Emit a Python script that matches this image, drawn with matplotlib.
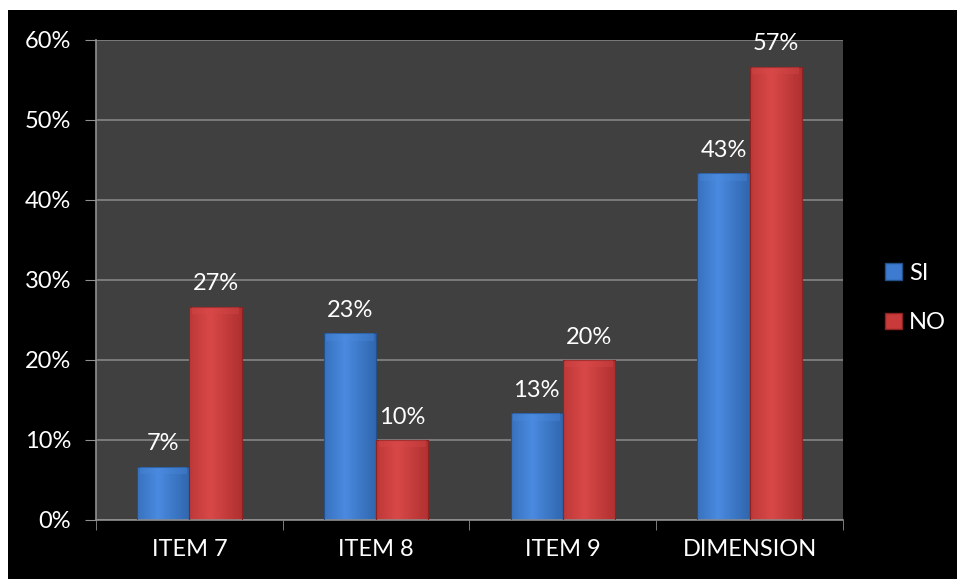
import numpy as np
import matplotlib.pyplot as plt
from matplotlib.patches import Rectangle

categorias = ["ITEM 7", "ITEM 8", "ITEM 9", "DIMENSION"]
si = [6.67, 23.33, 13.33, 43.33]
no = [26.67, 10.0, 20.0, 56.67]
etiquetas_si = ["7%", "23%", "13%", "43%"]
etiquetas_no = ["27%", "10%", "20%", "57%"]

plt.rcParams['font.family'] = ['Lato', 'DejaVu Sans']

fig = plt.figure(figsize=(9.57, 5.79), dpi=100, facecolor='white')
# fondo negro con un borde blanco arriba y a la izquierda
fondo = Rectangle((8 / 957, 0), 1, 1 - 10 / 579, transform=fig.transFigure,
                  facecolor='black', edgecolor='none', zorder=-10)
fig.add_artist(fondo)

ax = fig.add_axes([96 / 957, 1 - 520 / 579, (843 - 96) / 957, 480 / 579])
ax.set_facecolor('#404040')

x = np.arange(len(categorias))
w = 0.28


def barras_degradado(pos, vals, c_claro, c_oscuro, c_borde):
    bars = ax.bar(pos, vals, w, color='none', edgecolor=c_borde, linewidth=0.8, zorder=3)
    grad = np.linspace(0, 1, 64)
    perfil = 1 - np.abs(grad - 0.4) * 1.4
    perfil = np.clip(perfil, 0, 1)[None, :]
    cmap = plt.matplotlib.colors.LinearSegmentedColormap.from_list('g', [c_oscuro, c_claro])
    for b in bars:
        x0, y0 = b.get_x(), b.get_y()
        bw, bh = b.get_width(), b.get_height()
        im = ax.imshow(perfil, cmap=cmap, aspect='auto', extent=(x0, x0 + bw, y0, y0 + bh),
                       zorder=2, vmin=0, vmax=1)
        im.set_clip_path(b)
        # bisel superior más claro
        ax.bar(x0 + bw / 2, 0.9, bw * 0.9, bottom=y0 + bh - 0.9, color=c_claro,
               alpha=0.35, edgecolor='none', zorder=3)
    return bars


barras_degradado(x - w / 2, si, '#4a8ae0', '#2b5fa3', '#24508a')
barras_degradado(x + w / 2, no, '#d94848', '#a82c2c', '#8c2222')

for xi, v, t in zip(x - w / 2, si, etiquetas_si):
    ax.annotate(t, (xi, v), xytext=(0, 9), textcoords='offset points', ha='center',
                va='bottom', color='white', fontsize=17)
for xi, v, t in zip(x + w / 2, no, etiquetas_no):
    ax.annotate(t, (xi, v), xytext=(0, 9), textcoords='offset points', ha='center',
                va='bottom', color='white', fontsize=17)

ax.set_xlim(-0.5, 3.5)
ax.set_ylim(0, 60)
ax.set_yticks(np.arange(0, 61, 10))
ax.set_yticklabels([f"{v}%" for v in range(0, 61, 10)])
ax.set_xticks(x)
ax.set_xticklabels(categorias)
ax.set_xticks(np.arange(-0.5, 4, 1), minor=True)
ax.tick_params(axis='x', which='major', length=0, pad=14, colors='white', labelsize=17)
ax.tick_params(axis='x', which='minor', length=7, color='#909090', direction='out')
ax.tick_params(axis='y', length=8, color='#909090', colors='white', labelsize=17, pad=10)
ax.yaxis.grid(True, color='#858585', linewidth=1.2, zorder=1)
ax.set_axisbelow(True)
for s in ['top', 'right']:
    ax.spines[s].set_visible(False)
for s in ['left', 'bottom']:
    ax.spines[s].set_color('#909090')
    ax.spines[s].set_linewidth(1.2)

h1 = Rectangle((0, 0), 1, 1, facecolor='#3d7bd0', edgecolor='#24508a')
h2 = Rectangle((0, 0), 1, 1, facecolor='#c93a3a', edgecolor='#8c2222')
leg = fig.legend([h1, h2], ['SI', 'NO'], loc='center left', bbox_to_anchor=(864 / 957, 1 - 298 / 579),
                 frameon=False, fontsize=17, labelcolor='white', handlelength=0.7,
                 handleheight=0.7, handletextpad=0.3, labelspacing=1.2)

fig.savefig('out.png', dpi=100, facecolor='white')
